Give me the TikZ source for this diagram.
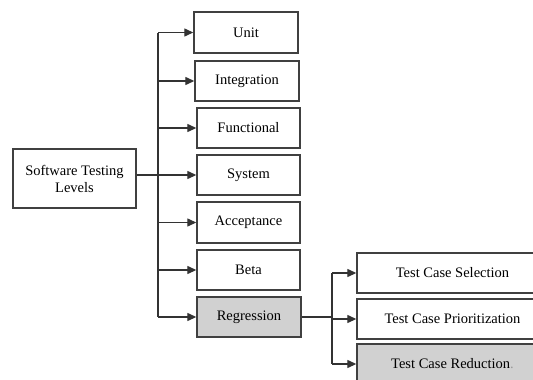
\documentclass[tikz,border=0pt]{standalone}
\usepackage{fontspec}
\setmainfont{Liberation Serif}
\usetikzlibrary{arrows.meta}
\begin{document}
\begin{tikzpicture}[x=1pt,y=-1pt,
  level/.style={draw=black!75, line width=1.4pt, rectangle, inner sep=0pt,
    font=\fontsize{14.5}{17}\selectfont, align=center},
  shaded/.style={level, fill=black!18},
  link/.style={draw=black!80, line width=1.3pt},
  arr/.style={link, -{Triangle[length=9pt,width=8pt]}}]
\useasboundingbox (0,0) rectangle (533,380);
\clip (0,0) rectangle (533,380);

% root
\node[level, minimum width=123pt, minimum height=59pt] (root) at (74.5,178.5) {Software Testing\\Levels};

% testing levels
\node[level, minimum width=104pt, minimum height=41pt] (unit) at (246,32.5) {Unit};
\node[level, minimum width=104pt, minimum height=40pt] (integ) at (247,81) {Integration};
\node[level, minimum width=103pt, minimum height=40pt] (func) at (248.5,128) {Functional};
\node[level, minimum width=103pt, minimum height=40pt] (sys) at (248.5,175) {System};
\node[level, minimum width=103pt, minimum height=41pt] (acc) at (248.5,222.5) {Acceptance};
\node[level, minimum width=103pt, minimum height=40pt] (beta) at (248.5,270) {Beta};
\node[shaded, minimum width=104pt, minimum height=40pt] (reg) at (249,317) {Regression};

% regression techniques
\node[level, minimum width=191pt, minimum height=40pt] (sel) at (452.5,273) {Test Case Selection};
\node[level, minimum width=191pt, minimum height=40pt] (prio) at (452.5,319) {Test Case Prioritization};
\node[shaded, minimum width=191pt, minimum height=40pt] (red) at (452.5,364) {Test Case Reduction\textcolor{black!40}{.}};

% trunk from the root to the levels
\coordinate (ttop) at (158,0 |- unit.west);
\coordinate (tbot) at (158,0 |- reg.west);
\draw[link] (ttop) -- (tbot);
\draw[arr] (root.east |- sys.west) -- (sys.west);
\foreach \n in {unit,integ,func,acc,beta,reg}
  \draw[arr] (ttop |- \n.west) -- (\n.west);

% branch from regression
\coordinate (btop) at (332,0 |- sel.west);
\coordinate (bbot) at (332,0 |- red.west);
\draw[link] (reg.east) -- (332,0 |- reg.east);
\draw[link] (btop) -- (bbot);
\foreach \n in {sel,prio,red}
  \draw[arr] (btop |- \n.west) -- (\n.west);
\end{tikzpicture}
\end{document}
